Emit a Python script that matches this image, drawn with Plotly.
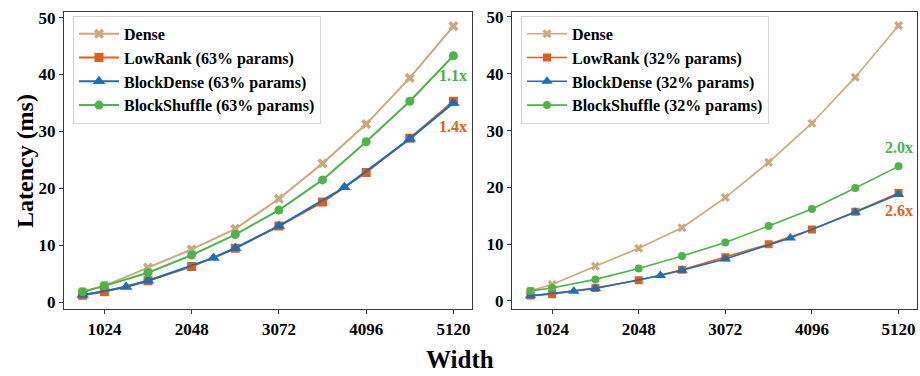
import plotly.graph_objects as go

# Widths (hidden size) measured for each kernel
widths = [768, 1024, 1536, 2048, 2560, 3072, 3584, 4096, 4608, 5120]
blockdense_widths = [768, 1280, 1536, 2304, 2560, 3072, 3840, 4608, 5120]

# Latency (ms)
dense = [1.8, 2.9, 6.1, 9.3, 12.9, 18.2, 24.4, 31.3, 39.4, 48.5]

# 63% params
lowrank_63 = [1.25, 1.85, 3.8, 6.3, 9.5, 13.4, 17.6, 22.8, 28.8, 35.3]
blockdense_63 = [1.3, 2.7, 3.8, 7.8, 9.5, 13.4, 20.2, 28.7, 35.0]
blockshuffle_63 = [1.85, 2.9, 5.2, 8.3, 11.9, 16.2, 21.5, 28.2, 35.3, 43.3]

# 32% params
lowrank_32 = [0.95, 1.2, 2.3, 3.65, 5.5, 7.7, 10.0, 12.6, 15.7, 19.0]
blockdense_32 = [0.9, 1.7, 2.2, 4.5, 5.4, 7.4, 11.1, 15.6, 18.8]
blockshuffle_32 = [1.75, 2.3, 3.8, 5.7, 7.9, 10.3, 13.2, 16.2, 19.9, 23.7]

x_ticks = [1024, 2048, 3072, 4096, 5120]
y_ticks = [0, 10, 20, 30, 40, 50]

C_DENSE = "#C9AA7E"
C_LOWRANK = "#DE5F1B"
C_BLOCKDENSE = "#1F6DB3"
C_SHUFFLE = "#4CB449"

FONT = "Liberation Serif"
W, H = 920, 376


def px_x(p):
    return p / W


def px_y(p):
    return 1 - p / H


fig = go.Figure()

panels = [
    ("63%", lowrank_63, blockdense_63, blockshuffle_63, "x", "y", "legend", 2.0, 9),
    ("32%", lowrank_32, blockdense_32, blockshuffle_32, "x2", "y2", "legend2", 1.6, 8),
]

for pct, lr, bd, bs, xa, ya, lg, lw, ms in panels:
    series = [
        ("Dense", widths, dense, C_DENSE, "x", ms),
        (f"LowRank ({pct} params)", widths, lr, C_LOWRANK, "square", ms),
        (f"BlockDense ({pct} params)", blockdense_widths, bd, C_BLOCKDENSE, "triangle-up", ms + 2),
        (f"BlockShuffle ({pct} params)", widths, bs, C_SHUFFLE, "circle", ms),
    ]
    for name, xs, ys, col, sym, size in series:
        fig.add_trace(go.Scatter(
            x=xs, y=ys, name=name, mode="lines+markers",
            line=dict(color=col, width=lw),
            marker=dict(symbol=sym, size=size, color=col, line=dict(width=0)),
            xaxis=xa, yaxis=ya, legend=lg,
        ))

# Speedup labels at the widest point
def speedup(v):
    return f"{dense[-1] / v[-1] + 1e-9:.1f}x"

labels = [
    ("x", "y", blockshuffle_63, C_SHUFFLE, -3.5),
    ("x", "y", lowrank_63, C_LOWRANK, -4.4),
    ("x2", "y2", blockshuffle_32, C_SHUFFLE, 3.3),
    ("x2", "y2", lowrank_32, C_LOWRANK, -3.1),
]
for xa, ya, v, col, dy in labels:
    fig.add_annotation(
        x=widths[-1], y=v[-1] + dy, xref=xa, yref=ya, text=speedup(v),
        showarrow=False, xanchor="center", yanchor="middle",
        font=dict(family=FONT, size=16, color=col, weight="bold"),
    )

axis_common = dict(
    showline=True, linecolor="#3a3a3a", linewidth=1.3, mirror=True,
    ticks="outside", ticklen=4, tickwidth=1.2, tickcolor="#3a3a3a",
    showgrid=False, zeroline=False,
    tickfont=dict(family=FONT, size=17, color="black", weight="bold"),
)

legend_common = dict(
    yanchor="top", xanchor="left",
    bgcolor="white", bordercolor="#d4d4d4", borderwidth=1,
    font=dict(family=FONT, size=16, color="black", weight="bold"),
    tracegroupgap=0, itemwidth=40,
)

y_dom = [px_y(311), px_y(8)]
fig.update_layout(
    width=W, height=H,
    margin=dict(l=0, r=0, t=0, b=0),
    paper_bgcolor="white", plot_bgcolor="white",
    font=dict(family=FONT, weight="bold", color="black"),
    xaxis=dict(domain=[px_x(64), px_x(472)], range=[550, 5338], tickvals=x_ticks, anchor="y", **axis_common),
    yaxis=dict(domain=y_dom, range=[-1.2, 51.0], tickvals=y_ticks, anchor="x", **axis_common),
    xaxis2=dict(domain=[px_x(512), px_x(917)], range=[550, 5338], tickvals=x_ticks, anchor="y2", **axis_common),
    yaxis2=dict(domain=y_dom, range=[-1.45, 50.9], tickvals=y_ticks, anchor="x2", **axis_common),
    legend=dict(x=px_x(73), y=px_y(12), **legend_common),
    legend2=dict(x=px_x(521), y=px_y(12), **legend_common),
    showlegend=True,
)

fig.add_annotation(
    text="Width", x=0.5, y=px_y(362), xref="paper", yref="paper",
    showarrow=False, xanchor="center", yanchor="middle",
    font=dict(family=FONT, size=25, color="black", weight="bold"),
)
fig.add_annotation(
    text="Latency (ms)", x=px_x(25), y=px_y(160), xref="paper", yref="paper",
    showarrow=False, xanchor="center", yanchor="middle", textangle=-90,
    font=dict(family=FONT, size=24, color="black", weight="bold"),
)

fig.write_html("out.html")
